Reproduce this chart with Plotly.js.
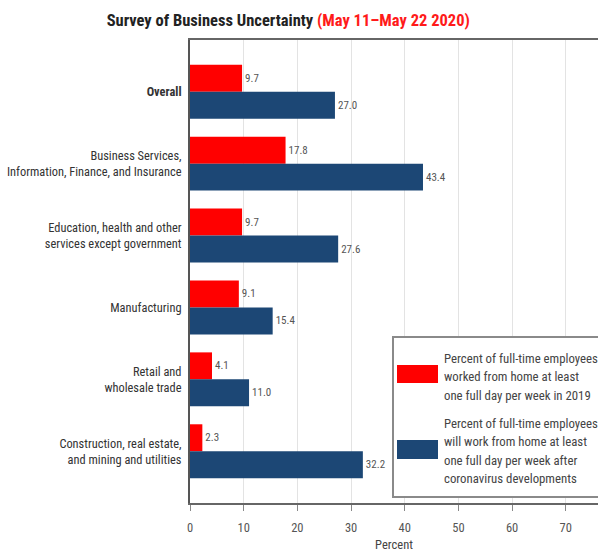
<!DOCTYPE html>
<html>
<head>
<meta charset="utf-8">
<script src="https://cdn.plot.ly/plotly-3.0.1.min.js"></script>
<style>html,body{margin:0;padding:0;background:#fff;}#chart{width:598px;height:555px;}</style>
</head>
<body>
<div id="chart"></div>
<script>
const categories = [
  "Overall",
  "Business Services,<br>Information, Finance, and Insurance",
  "Education, health and other<br>services except government",
  "Manufacturing",
  "Retail and<br>wholesale trade",
  "Construction, real estate,<br>and mining and utilities"
];
const tickLabels = [
  "<b>Overall</b>",
  "Business Services,<br>Information, Finance, and Insurance",
  "Education, health and other<br>services except government",
  "Manufacturing",
  "Retail and<br>wholesale trade",
  "Construction, real estate,<br>and mining and utilities"
];
const pre2019 = [9.7, 17.8, 9.7, 9.1, 4.1, 2.3];
const afterCovid = [27.0, 43.4, 27.6, 15.4, 11.0, 32.2];
const seriesNames = [
  "Percent of full-time employees<br>worked from home at least<br>one full day per week in 2019",
  "Percent of full-time employees<br>will work from home at least<br>one full day per week after<br>coronavirus developments"
];
const seriesColors = ["#ff0000", "#1c4775"];
const xTicks = [0, 10, 20, 30, 40, 50, 60, 70];

const FONT = "Roboto Condensed, Roboto, Liberation Sans, sans-serif";

const traces = [pre2019, afterCovid].map((vals, i) => ({
  type: "bar",
  orientation: "h",
  y: categories,
  x: vals,
  name: seriesNames[i].replace(/<br>/g, " "),
  marker: {color: seriesColors[i], line: {width: 0}},
  text: vals.map(v => v.toFixed(1)),
  textposition: "outside",
  cliponaxis: false,
  textfont: {family: FONT, size: 11, color: "#555"},
  showlegend: false,
  hoverinfo: "x+y"
}));

// manual legend (paper coordinates)
const W = 598, H = 555, ml = 190, mr = 0, mt = 40, mb = 52;
const pw = W - ml - mr, ph = H - mt - mb;
const px = x => (x - ml) / pw;
const py = y => 1 - (y - mt) / ph;

const shapes = [
  {type: "rect", xref: "paper", yref: "paper", x0: px(393), x1: px(600), y0: py(497), y1: py(337),
   line: {color: "#8a8a8a", width: 2}, fillcolor: "#fff", layer: "above"},
  {type: "rect", xref: "paper", yref: "paper", x0: px(397), x1: px(438), y0: py(383), y1: py(365),
   line: {width: 0}, fillcolor: seriesColors[0], layer: "above"},
  {type: "rect", xref: "paper", yref: "paper", x0: px(397), x1: px(438), y0: py(459), y1: py(440),
   line: {width: 0}, fillcolor: seriesColors[1], layer: "above"}
];
const legendStartY = [358, 423];
const legendLineGap = 18.5;
const annotations = [];
seriesNames.forEach((nm, i) => {
  nm.split("<br>").forEach((line, j) => {
    annotations.push({
      xref: "paper", yref: "paper", x: px(442), y: py(legendStartY[i] + j * legendLineGap),
      xanchor: "left", yanchor: "middle", align: "left",
      text: line, showarrow: false, font: {family: FONT, size: 12.8, color: "#444"}
    });
  });
});

const layout = {
  width: W, height: H,
  margin: {l: ml, r: mr, t: mt, b: mb, pad: 0},
  paper_bgcolor: "#fff", plot_bgcolor: "#fff",
  font: {family: FONT, color: "#333"},
  title: {
    text: "<b>Survey of Business Uncertainty <span style='color:#ff1a1a'>(May 11–May 22 2020)</span></b>",
    font: {family: FONT, size: 16.5, color: "#222"},
    xref: "container", x: 0.482, xanchor: "center",
    yref: "container", y: 1 - 20 / H, yanchor: "middle"
  },
  barmode: "group",
  bargap: 0.25,
  bargroupgap: 0,
  xaxis: {
    range: [0, 76],
    tickvals: xTicks,
    ticktext: xTicks.map(String),
    showgrid: true, gridcolor: "#e3e3e3", gridwidth: 1,
    zeroline: false,
    showline: true, linecolor: "#666", linewidth: 2, mirror: true,
    ticks: "outside", ticklen: 6, tickcolor: "#888", tickwidth: 1,
    ticklabelstandoff: 6,
    tickfont: {family: FONT, size: 12.5, color: "#555"},
    title: {text: "Percent", font: {family: FONT, size: 12.5, color: "#444"}, standoff: 6}
  },
  yaxis: {
    type: "category",
    categoryorder: "array", categoryarray: categories,
    tickvals: categories, ticktext: tickLabels,
    range: [5.72, -0.72],
    showgrid: false, zeroline: false,
    showline: true, linecolor: "#555", linewidth: 2,
    ticks: "outside", ticklen: 4, tickcolor: "rgba(0,0,0,0)",
    tickfont: {family: FONT, size: 12.4, color: "#333"}
  },
  shapes: shapes,
  annotations: annotations
};

Plotly.newPlot("chart", traces, layout, {displayModeBar: false, staticPlot: true});
</script>
</body>
</html>
